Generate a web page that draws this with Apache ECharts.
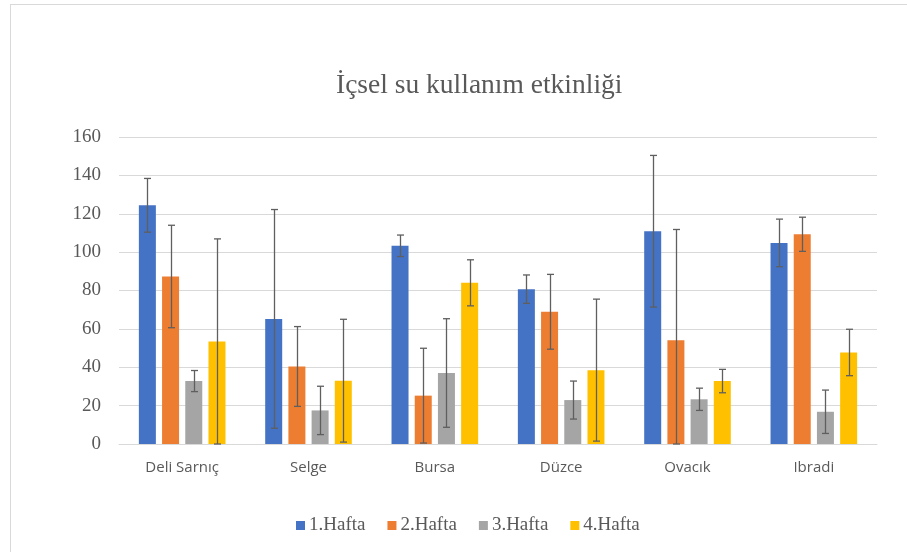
<!DOCTYPE html>
<html>
<head>
<meta charset="utf-8">
<script src="https://cdn.jsdelivr.net/npm/echarts@6/dist/echarts.min.js"></script>
<style>
html, body { margin: 0; padding: 0; background: #ffffff; }
#frame {
	position: absolute;
	left: 10px;
	top: 4px;
	width: 897px;
	height: 548px;
	border-top: 1px solid #d9d9d9;
	border-left: 1px solid #d9d9d9;
}
#chart { position: absolute; left: 0; top: 0; width: 907px; height: 552px; }
</style>
</head>
<body>
<div id="frame"></div>
<div id="chart"></div>
<script>
// kategoriler ve seriler
const categories = ["Deli Sarnıç", "Selge", "Bursa", "Düzce", "Ovacık", "Ibradi"]
const weeks = ["1.Hafta", "2.Hafta", "3.Hafta", "4.Hafta"]
const week1 = [124.4, 65.2, 103.3, 80.7, 110.9, 104.8]
const week2 = [87.3, 40.4, 25.2, 68.9, 54.1, 109.3]
const week3 = [32.8, 17.5, 37.0, 22.9, 23.3, 16.8]
const week4 = [53.4, 33.0, 84.0, 38.5, 32.8, 47.7]
// hata çubukları (±)
const err1 = [14.0, 57.0, 5.6, 7.4, 39.5, 12.4]
const err2 = [26.7, 20.8, 24.7, 19.5, 57.7, 8.9]
const err3 = [5.5, 12.6, 28.3, 9.9, 5.8, 11.3]
const err4 = [53.5, 32.0, 12.0, 37.0, 6.1, 12.1]
const yTicks = [0, 20, 40, 60, 80, 100, 120, 140, 160]

const colors = ["#4472C4", "#ED7D31", "#A5A5A5", "#FFC000"]
const values = [week1, week2, week3, week4]
const errors = [err1, err2, err3, err4]

const BAR_W = 17
const BAR_GAP = 6.2

let myChart = echarts.init(document.getElementById("chart"))

let series = []
values.forEach((vals, i) => {
	series.push({
		name: weeks[i],
		type: "bar",
		data: vals,
		barWidth: BAR_W,
		barGap: (BAR_GAP / BAR_W * 100) + "%",
		itemStyle: { color: colors[i] },
		emphasis: { disabled: true },
	})
})
values.forEach((vals, i) => {
	let offset = (i - 1.5) * (BAR_W + BAR_GAP)
	series.push({
		name: "err" + i,
		type: "custom",
		z: 5,
		data: vals.map((v, k) => [k, Math.max(0, v - errors[i][k]), v + errors[i][k]]),
		encode: { x: 0, y: [1, 2] },
		renderItem: function (params, api) {
			let lo = api.coord([api.value(0), api.value(1)])
			let hi = api.coord([api.value(0), api.value(2)])
			let x = Math.round(lo[0] + offset) + 0.5
			let cap = 3.5
			let style = { stroke: "#5f5f5f", lineWidth: 1.3 }
			return {
				type: "group",
				children: [
					{ type: "line", shape: { x1: x, y1: lo[1], x2: x, y2: hi[1] }, style: style },
					{ type: "line", shape: { x1: x - cap, y1: hi[1], x2: x + cap, y2: hi[1] }, style: style },
					{ type: "line", shape: { x1: x - cap, y1: lo[1], x2: x + cap, y2: lo[1] }, style: style },
				],
			}
		},
	})
})

let option = {
	animation: false,
	title: {
		text: "İçsel su kullanım etkinliği",
		left: 331,
		top: 67,
		textStyle: {
			fontFamily: "Liberation Serif",
			fontSize: 27.5,
			fontWeight: "normal",
			color: "#595959",
		},
	},
	legend: {
		data: weeks,
		left: 296,
		top: 516,
		padding: 0,
		itemWidth: 9,
		itemHeight: 9,
		itemGap: 22,
		icon: "rect",
		textStyle: {
			fontFamily: "Liberation Serif",
			fontSize: 19,
			color: "#595959",
			padding: [0, 0, 0, -1],
		},
	},
	grid: {
		left: 119,
		right: 30,
		top: 137,
		bottom: 108,
	},
	xAxis: {
		type: "category",
		data: categories,
		axisLine: { lineStyle: { color: "#d9d9d9" } },
		axisTick: { show: false },
		axisLabel: {
			margin: 16,
			fontFamily: "Open Sans",
			fontSize: 15,
			color: "#595959",
		},
	},
	yAxis: {
		type: "value",
		min: yTicks[0],
		max: yTicks[yTicks.length - 1],
		interval: 20,
		axisLine: { show: false },
		axisTick: { show: false },
		splitLine: { lineStyle: { color: "#d9d9d9" } },
		axisLabel: {
			margin: 18,
			fontFamily: "Liberation Serif",
			fontSize: 19,
			color: "#595959",
		},
	},
	series: series,
}
myChart.setOption(option)
</script>
</body>
</html>
